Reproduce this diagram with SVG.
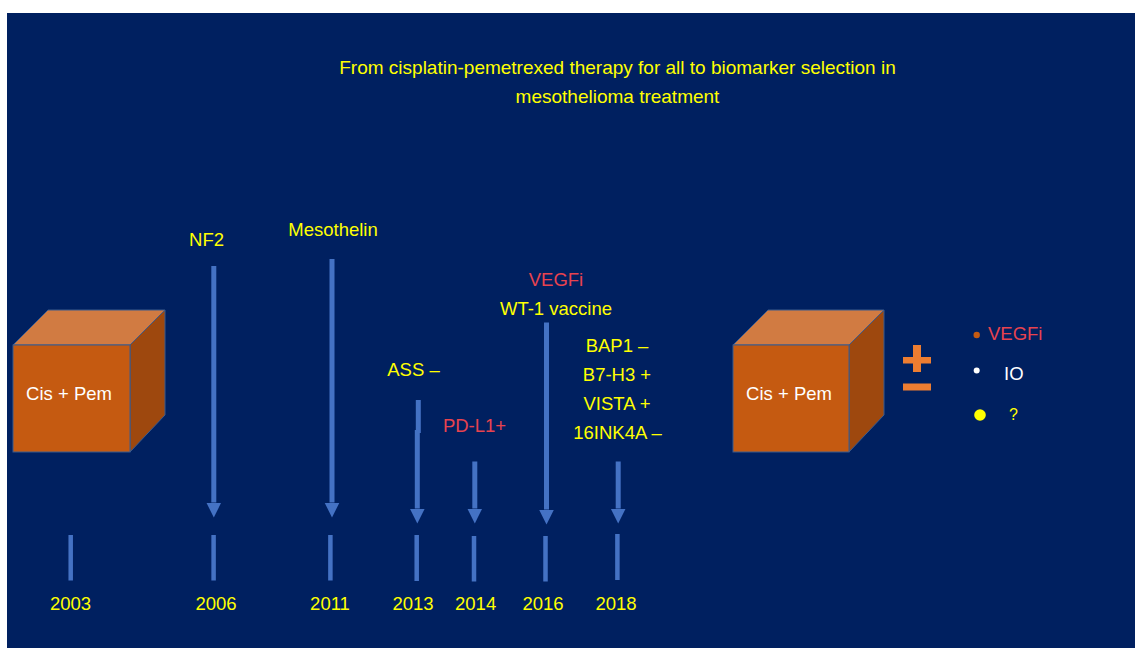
<svg xmlns="http://www.w3.org/2000/svg" width="1135" height="648" viewBox="0 0 1135 648">
<style>
text{font-family:"Liberation Sans",Arial,Helvetica,sans-serif;font-size:18.5px;}
.y{fill:#FFFF00;}
.r{fill:#E8434F;}
.w{fill:#FFFFFF;}
.m{text-anchor:middle;}
.front{fill:#C55A11;stroke:#3B5A8C;stroke-width:1;}
.top{fill:#D17B42;stroke:#3B5A8C;stroke-width:1;}
.side{fill:#9E480E;stroke:#3B5A8C;stroke-width:1;}
.shaft{stroke:#4472C4;stroke-width:5;fill:none;marker-end:url(#ah);}
.seg{stroke:#4472C4;stroke-width:5;fill:none;}
.tick{stroke:#4472C4;stroke-width:4.5;}
.pm{fill:#ED7D31;}
</style>
<defs>
<marker id="ah" markerUnits="userSpaceOnUse" markerWidth="16" markerHeight="16" refX="0" refY="7.5" orient="auto">
<path d="M0,0 L15,7.5 L0,15 Z" fill="#4472C4"/>
</marker>
</defs>
<rect x="0" y="0" width="1135" height="648" fill="#FFFFFF"/>
<rect x="7" y="13" width="1128" height="635" fill="#002060"/>

<g id="title">
<text class="y m" x="617.5" y="74" style="font-size:19px">From cisplatin-pemetrexed therapy for all to biomarker selection in</text>
<text class="y m" x="617.5" y="103" style="font-size:19px">mesothelioma treatment</text>
</g>

<g id="cube-left">
<polygon class="top" points="13,345 48,310 165,310 130,345"/>
<polygon class="side" points="130,345 165,310 165,415 130,452"/>
<rect class="front" x="13" y="345" width="117" height="107"/>
<text class="w m" x="69" y="400">Cis + Pem</text>
</g>

<g id="cube-right">
<polygon class="top" points="733,345 768,310 884,310 849,345"/>
<polygon class="side" points="849,345 884,310 884,415 849,452"/>
<rect class="front" x="733" y="345" width="116" height="107"/>
<text class="w m" x="789" y="400">Cis + Pem</text>
</g>

<g id="plus-minus">
<rect class="pm" x="903" y="357" width="28" height="6.5"/>
<rect class="pm" x="913" y="345" width="8" height="27"/>
<rect class="pm" x="903" y="383.5" width="28" height="7"/>
</g>

<g id="legend">
<circle cx="976.7" cy="335" r="3.2" fill="#C55A11"/>
<text class="r" x="988" y="339.5">VEGFi</text>
<circle cx="976.7" cy="370.5" r="3" fill="#FFFFFF"/>
<text class="w" x="1004" y="380">IO</text>
<circle cx="980" cy="415" r="5.8" fill="#FFFF00"/>
<text class="y" x="1009" y="420" style="font-size:16px">?</text>
</g>

<g id="label-nf2"><text class="y m" x="206.5" y="246">NF2</text></g>
<g id="label-mesothelin"><text class="y m" x="333" y="236">Mesothelin</text></g>
<g id="label-ass"><text class="y m" x="413.5" y="376">ASS –</text></g>
<g id="label-pdl1"><text class="r m" x="474.5" y="431.5">PD-L1+</text></g>
<g id="label-2016">
<text class="r m" x="556" y="286">VEGFi</text>
<text class="y m" x="556" y="315">WT-1 vaccine</text>
</g>
<g id="label-2018">
<text class="y m" x="617" y="352">BAP1 –</text>
<text class="y m" x="617" y="381">B7-H3 +</text>
<text class="y m" x="617" y="409.5">VISTA +</text>
<text class="y m" x="617.5" y="439">16INK4A –</text>
</g>

<g id="connectors">
<line class="shaft" x1="213.8" y1="266" x2="213.8" y2="502.5"/>
<line class="shaft" x1="332" y1="259" x2="332" y2="502.5"/>
<line class="seg" x1="418.3" y1="400" x2="418.3" y2="433"/>
<line class="shaft" x1="417.3" y1="430" x2="417.3" y2="508.5"/>
<line class="shaft" x1="474.8" y1="461.5" x2="474.8" y2="508.5"/>
<line class="shaft" x1="546.5" y1="322.5" x2="546.5" y2="509.5"/>
<line class="shaft" x1="618.2" y1="461.5" x2="618.2" y2="508.5"/>
</g>

<g id="timeline">
<line class="tick" x1="70.7" y1="535" x2="70.7" y2="580.5"/>
<line class="tick" x1="213.6" y1="535" x2="213.6" y2="580.5"/>
<line class="tick" x1="330.4" y1="535" x2="330.4" y2="580.5"/>
<line class="tick" x1="416.7" y1="535" x2="416.7" y2="581"/>
<line class="tick" x1="474" y1="536" x2="474" y2="581.5"/>
<line class="tick" x1="545.5" y1="536" x2="545.5" y2="581.5"/>
<line class="tick" x1="617.4" y1="534" x2="617.4" y2="580"/>
<text class="y m" x="70.5" y="610">2003</text>
<text class="y m" x="216" y="610">2006</text>
<text class="y m" x="330" y="610">2011</text>
<text class="y m" x="413" y="610">2013</text>
<text class="y m" x="475.6" y="610">2014</text>
<text class="y m" x="543" y="610">2016</text>
<text class="y m" x="616" y="610">2018</text>
</g>
</svg>
